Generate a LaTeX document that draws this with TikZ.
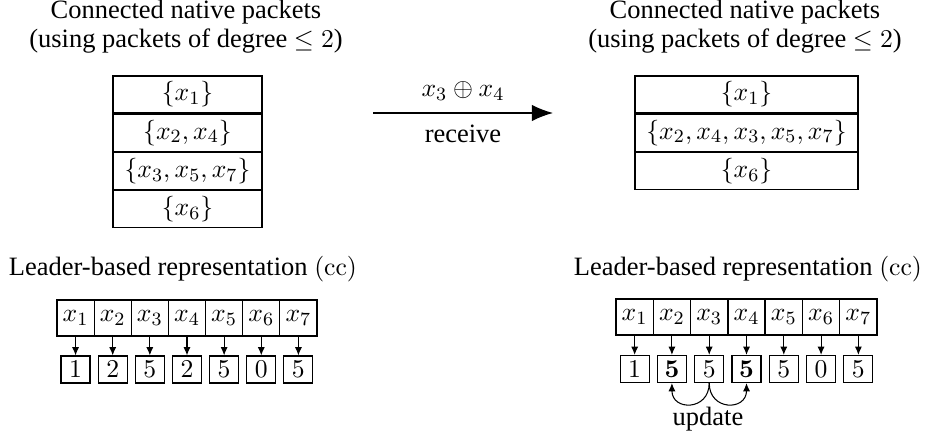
\documentclass[tikz,border=0pt]{standalone}
\usepackage[no-math]{fontspec}
\setmainfont{Liberation Serif}
\usepackage{amsmath}
\usetikzlibrary{arrows.meta,positioning}

\tikzset{
 setrow/.style={draw,minimum width=2.235cm,minimum height=.555cm,inner sep=0pt},
 widerow/.style={setrow,minimum width=3.345cm},
 cell/.style={draw,minimum width=.557cm,minimum height=.54cm,inner sep=0pt},
 val/.style={draw,minimum width=.435cm,minimum height=.405cm,inner sep=0pt},
 ptr/.style={-{Latex[length=3.5pt,width=3pt]},line width=.45pt},
}

\begin{document}
\begin{tikzpicture}[x=.015cm,y=-.015cm,font=\fontsize{11.3}{12.6}\selectfont,
 line width=.5pt,>=Latex,every node/.style={inner sep=1pt}]
\useasboundingbox (0,0) rectangle (926,441);
% before receiving
\node[align=center] (ltitle) at (186,26.5) {Connected native packets\\(using packets of degree $\leq 2$)};
\node[setrow] (l1) at (187.5,94.5) {$\{x_1\}$};
\node[setrow,below=0pt of l1] (l2) {$\{x_2,x_4\}$};
\node[setrow,below=0pt of l2] (l3) {$\{x_3,x_5,x_7\}$};
\node[setrow,below=0pt of l3] (l4) {$\{x_6\}$};
% after receiving
\node[align=center] (rtitle) at (745,26.5) {Connected native packets\\(using packets of degree $\leq 2$)};
\node[widerow] (r1) at (746.5,94.5) {$\{x_1\}$};
\node[widerow,below=0pt of r1] (r2) {$\{x_2,x_4,x_3,x_5,x_7\}$};
\node[widerow,below=0pt of r2] (r3) {$\{x_6\}$};
% received packet
\coordinate (rxa) at (373,113);
\coordinate (rxb) at (553,113);
\draw[-{Latex[length=9pt,width=7pt]}] (rxa) -- (rxb)
 node[midway,above=4pt] {$x_3\oplus x_4$}
 node[midway,below=4pt] {receive};
% leader-based representation
\node (lcc) at (183,269) {Leader-based representation $(\mathrm{cc})$};
\node (rcc) at (748,269) {Leader-based representation $(\mathrm{cc})$};
\foreach \i/\v in {1/1,2/2,3/5,4/2,5/5,6/0,7/5} {
 \node[cell] (lx\i) at ({57+37.14*(\i-.5)},318) {$x_{\i}$};
 \node[val] (lv\i) at ({57+37.14*(\i-.5)},369.5) {$\v$};
 \draw[ptr] (lx\i) -- (lv\i);
}
\foreach \i/\v in {1/1,2/\mathbf{5},3/5,4/\mathbf{5},5/5,6/0,7/5} {
 \node[cell] (rx\i) at ({616+37.29*(\i-.5)},317) {$x_{\i}$};
 \node[val] (rv\i) at ({616+37.29*(\i-.5)},369) {$\v$};
 \draw[ptr] (rx\i) -- (rv\i);
}
\draw[ptr] (rv3.south) .. controls +(0,28) and +(0,28) .. (rv2.south);
\draw[ptr] (rv3.south) .. controls +(0,28) and +(0,28) .. (rv4.south);
\node (upd) at (708,419) {update};
\end{tikzpicture}
\end{document}
